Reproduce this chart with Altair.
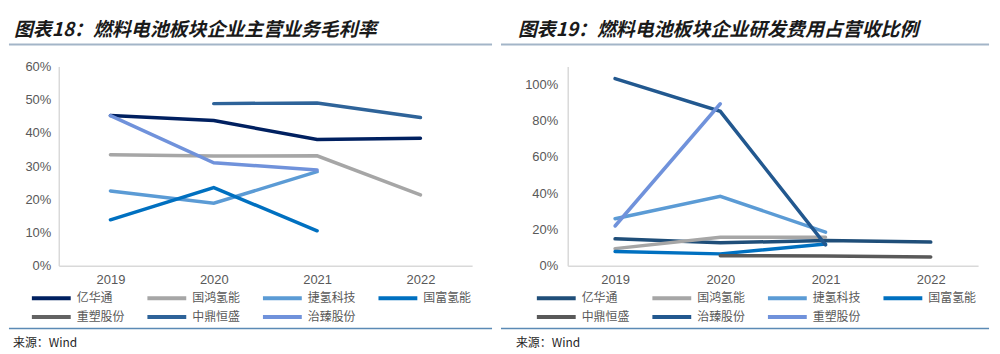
import altair as alt
import pandas as pd

years = ["2019", "2020", "2021", "2022"]

# 图表18 主营业务毛利率 (%)
gm_companies = ["亿华通", "国鸿氢能", "捷氢科技", "国富氢能", "重塑股份", "中鼎恒盛", "治臻股份"]
gm_colors = ["#002060", "#a6a6a6", "#5b9bd5", "#0070c0", "#636363", "#2e6399", "#7092db"]
gm_yihuatong = [45.2, 43.7, 38.0, 38.4]
gm_guohong = [33.4, 33.0, 33.1, 21.3]
gm_jieqing = [22.5, 18.8, 28.3, None]
gm_guofu = [13.8, 23.5, 10.5, None]
gm_chongsu = [None, None, None, None]
gm_zhongding = [None, 48.8, 49.0, 44.6]
gm_zhizhen = [45.2, 31.0, 28.8, None]
gm_series = [gm_yihuatong, gm_guohong, gm_jieqing, gm_guofu, gm_chongsu, gm_zhongding, gm_zhizhen]

# 图表19 研发费用占营收比例 (%)
rd_companies = ["亿华通", "国鸿氢能", "捷氢科技", "国富氢能", "中鼎恒盛", "治臻股份", "重塑股份"]
rd_colors = ["#1f4e79", "#a6a6a6", "#5b9bd5", "#0070c0", "#595959", "#22588f", "#7092db"]
rd_yihuatong = [14.8, 12.6, 13.9, 13.0]
rd_guohong = [9.4, 15.7, 15.7, None]
rd_jieqing = [25.9, 38.3, 18.5, None]
rd_guofu = [7.8, 6.5, 12.0, None]
rd_zhongding = [None, 5.5, 5.3, 4.8]
rd_zhizhen = [103.3, 85.2, 11.5, None]
rd_chongsu = [21.9, 89.4, None, None]
rd_series = [rd_yihuatong, rd_guohong, rd_jieqing, rd_guofu, rd_zhongding, rd_zhizhen, rd_chongsu]


def long_df(companies, series):
    rows = []
    for c, vals in zip(companies, series):
        for y, v in zip(years, vals):
            if v is not None:
                rows.append({"company": c, "year": y, "value": v})
    return pd.DataFrame(rows)


CJK = "Noto Sans CJK SC"
AX = "Liberation Sans"


def text_layer(txt, x, y, size, color, weight="normal", style="normal"):
    return alt.Chart(alt.Data(values=[{}])).mark_text(
        text=txt, align="left", baseline="middle", fontSize=size,
        fontWeight=weight, fontStyle=style, color=color, font=CJK
    ).encode(x=alt.value(x), y=alt.value(y))


def rule_layer(x1, x2, y, color, w):
    return alt.Chart(alt.Data(values=[{}])).mark_rule(color=color, strokeWidth=w).encode(
        x=alt.value(x1), x2=alt.value(x2), y=alt.value(y)
    )


def panel(df, companies, colors, ymax, yticks, width, height, pad, title,
          title_x, line_x1, line_x2, legend_x, legend_y, src_x, label_pad):
    lines = alt.Chart(df).mark_line(strokeWidth=3.5, strokeCap="round").encode(
        x=alt.X("year:O", scale=alt.Scale(type="point", padding=pad),
                axis=alt.Axis(title=None, labelAngle=0, labelPadding=8)),
        y=alt.Y("value:Q", scale=alt.Scale(domain=[0, ymax], nice=False),
                axis=alt.Axis(title=None, values=yticks, labelExpr="datum.value + '%'",
                              labelPadding=label_pad)),
        color=alt.Color("company:N",
                        scale=alt.Scale(domain=companies, range=colors),
                        legend=alt.Legend(title=None, orient="none", legendX=legend_x, legendY=legend_y,
                                          direction="horizontal",
                                          columns=4, columnPadding=14, rowPadding=2, gridAlign="all",
                                          symbolType="M-3,0L3,0", symbolSize=169, symbolStrokeWidth=4,
                                          labelFont=CJK, labelFontSize=12, labelColor="#595959",
                                          labelOffset=17)),
    )
    deco = [
        text_layer(title, title_x, -37, 19, "#1a1a1a", weight="bold", style="italic"),
        rule_layer(line_x1, line_x2, -22, "#a3b5c8", 2),
        rule_layer(line_x1, line_x2, 263, "#5b8ab5", 1.5),
        text_layer("来源：Wind", src_x, 278, 12, "#262626"),
    ]
    return alt.layer(lines, *deco).properties(width=width, height=height)


left = panel(long_df(gm_companies, gm_series), gm_companies, gm_colors, 60,
             [0, 10, 20, 30, 40, 50, 60], 415, 200, 0.5,
             "图表18：燃料电池板块企业主营业务毛利率", -45, -50, 435, -16, 224, -46, 8)

right = panel(long_df(rd_companies, rd_series), rd_companies, rd_colors, 110,
              [0, 20, 40, 60, 80, 100], 412, 200, 0.45,
              "图表19：燃料电池板块企业研发费用占营收比例", -50, -67, 423, -20, 224, -52, 10)

chart = alt.hconcat(left, right, spacing=7).resolve_scale(
    color="independent", x="independent", y="independent"
).resolve_legend(color="independent").configure_view(stroke=None).configure_axis(
    domainColor="#d9d9d9", domainWidth=1.5, ticks=False, grid=False,
    labelColor="#595959", labelFont=AX, labelFontSize=13
).properties(padding={"left": 8, "top": 20, "right": 10, "bottom": 5})

chart.save("out.html", embed_options={"renderer": "svg", "actions": False})
